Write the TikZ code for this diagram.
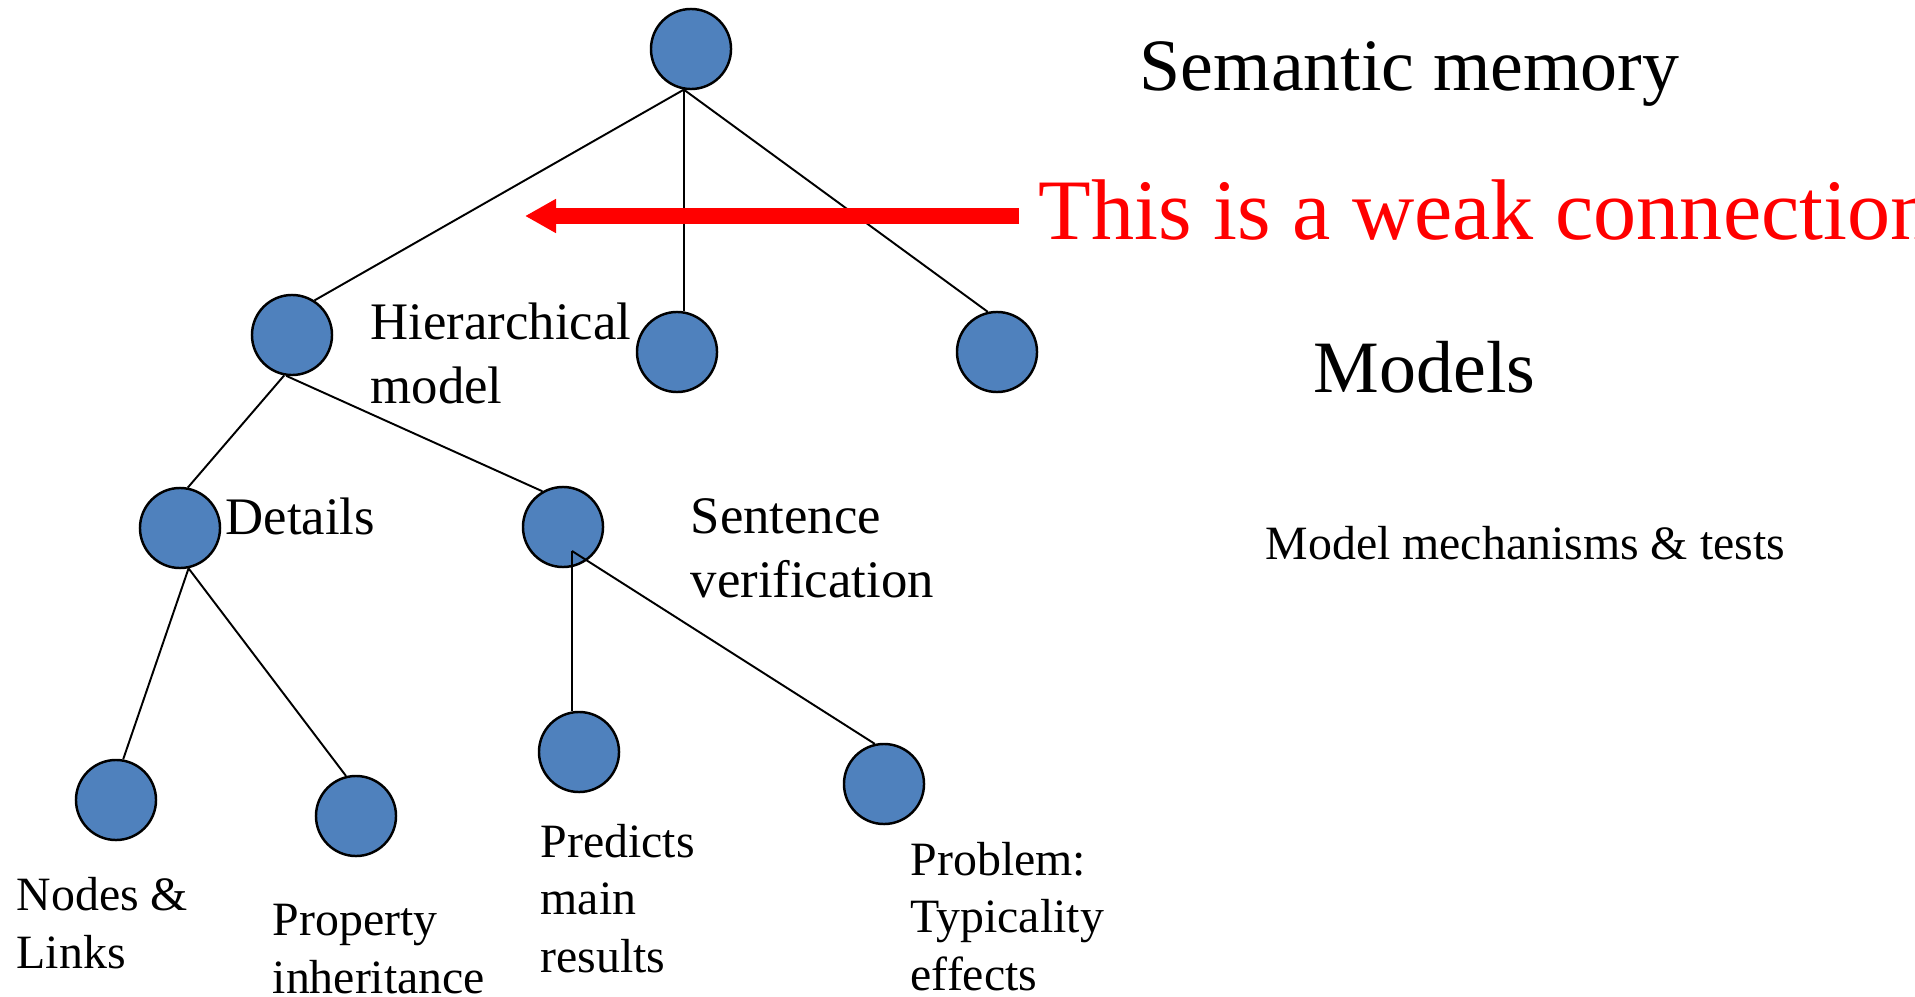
\documentclass[tikz,border=0pt]{standalone}
\usepackage{fontspec}
\setmainfont{Liberation Serif}
\usetikzlibrary{arrows.meta,calc}
\definecolor{nodeblue}{RGB}{79,129,189}
\definecolor{weakred}{RGB}{255,0,0}
\begin{document}
\begin{tikzpicture}[x=0.01cm,y=-0.01cm,
  concept/.style={circle,draw=black,fill=nodeblue,line width=0.7pt,minimum size=0.8cm,inner sep=0pt},
  link/.style={draw=black,line width=0.55pt},
  % multi-line labels are placed by the baseline of their last line
  lbl/.style={anchor=base west,inner sep=0pt,align=left,font=\fontsize{15pt}{18pt}\selectfont},
  small/.style={anchor=base west,inner sep=0pt,align=left,font=\fontsize{13.6pt}{16.3pt}\selectfont},
  heading/.style={anchor=base west,inner sep=0pt,font=\fontsize{21pt}{25pt}\selectfont},
  weak/.style={draw=weakred,line width=0.16cm,-{Triangle[length=0.31cm,width=0.32cm]}}
]
\clip (0,0) rectangle (1915,997);
\fill[white] (0,0) rectangle (1915,997);

% concept nodes of the hierarchy
\node[concept] (top)   at (691,49)  {};
\node[concept] (hier)  at (292,335) {};
\node[concept] (mid)   at (677,352) {};
\node[concept] (right) at (997,352) {};
\node[concept] (det)   at (180,528) {};
\node[concept] (sent)  at (563,527) {};
\node[concept] (nl)    at (116,800) {};
\node[concept] (prop)  at (356,816) {};
\node[concept] (pred)  at (579,752) {};
\node[concept] (prob)  at (884,784) {};

% links between concepts
\draw[link] (top.-100) -- (hier.57);
\draw[link] (top.-100) -- (top.-100 |- mid.north);
\draw[link] (top.-100) -- (right.103);
\draw[link] (hier.-101) -- (det.79);
\draw[link] (hier.-98) -- (sent.120);
\draw[link] (det.-78) -- (nl.80);
\draw[link] (det.-78) -- (prop.104);
\coordinate (sentfoot) at ($(sent)+(9,24)$);
\draw[link] (sentfoot) -- (sentfoot |- pred.north);
\draw[link] (sentfoot) -- (prob.103);

% weak-connection arrow
\coordinate (weaktail) at (1019,216);
\coordinate (weaktip)  at (525,216);
\draw[weak] (weaktail) -- (weaktip);

% labels
\node[heading] (tsem) at (1139,91) {Semantic memory};
\node[anchor=base west,inner sep=0pt,text=weakred,font=\fontsize{24.5pt}{29pt}\selectfont] (tweak) at (1038,240) {This is a weak connection};
\node[heading] (tmodels) at (1313,393) {Models};
\node[small] (tmech) at (1265,559) {Model mechanisms \& tests};

\node[lbl] (thier) at (370,403) {Hierarchical\\model};
\node[lbl] (tdet)  at (225,534) {Details};
\node[lbl] (tsent) at (690,597) {Sentence\\verification};

\node[small] (tnl)   at (16,968)  {Nodes \&\\Links};
\node[small] (tprop) at (272,993) {Property\\inheritance};
\node[small] (tpred) at (540,972) {Predicts\\main\\results};
\node[small] (tprob) at (910,990) {Problem:\\Typicality\\effects};
\end{tikzpicture}
\end{document}
